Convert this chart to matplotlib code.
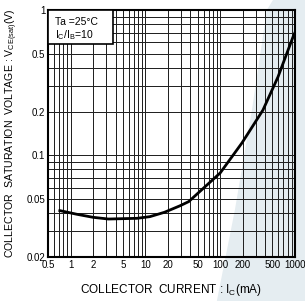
import matplotlib
matplotlib.use("Agg")
import matplotlib.pyplot as plt
from matplotlib.patches import Polygon, Rectangle

plt.rcParams['font.family'] = ['Liberation Sans', 'DejaVu Sans']
plt.rcParams['mathtext.fontset'] = 'custom'
plt.rcParams['mathtext.rm'] = 'Liberation Sans'
plt.rcParams['mathtext.default'] = 'regular'

# curve
ic = [0.72, 1.2, 2, 3.2, 7.7, 11.5, 18, 29, 38, 100, 196, 373, 592, 781, 940, 1000]
vce = [0.0417, 0.0394, 0.0375, 0.0365, 0.0369, 0.0379, 0.0406, 0.0450, 0.0481,
       0.0757, 0.122, 0.205, 0.346, 0.506, 0.652, 0.70]

xticks = [0.5, 1, 2, 5, 10, 20, 50, 100, 200, 500, 1000]
xticklabels = ["0.5", "1", "2", "5", "10", "20", "50", "100", "200", "500", "1000"]
yticks = [0.02, 0.05, 0.1, 0.2, 0.5, 1]
yticklabels = ["0.02", "0.05", "0.1", "0.2", "0.5", "1"]

fig = plt.figure(figsize=(3.05, 3.01), dpi=100)

# light background swoosh on the right (behind everything)
bgax = fig.add_axes([0, 0, 1, 1], zorder=-1)
bgax.axis('off')
bgax.set_xlim(0, 1)
bgax.set_ylim(0, 1)
bgax.add_patch(Polygon([(0.895, 1.0), (1.0, 1.0), (1.0, 0.0), (0.711, 0.0),
                        (0.770, 0.302), (0.826, 0.635), (0.875, 0.967)],
                       closed=True, facecolor='#e5edf1', edgecolor='none'))

ax = fig.add_axes([48/305, 1-257/301, 247/305, 247/301])
ax.patch.set_alpha(0)
ax.set_xscale('log')
ax.set_yscale('log')
ax.set_xlim(0.5, 1000)
ax.set_ylim(0.02, 1)

# grid lines at every 1..9 of each decade
xs = [m * 10.0**d for d in range(-1, 3) for m in range(1, 10)]
xs = [v for v in xs if 0.5 < v < 1000]
ys = [m * 10.0**d for d in range(-2, 0) for m in range(1, 10)]
ys = [v for v in ys if 0.02 < v < 1]
for v in xs:
    ax.axvline(v, color='#222222', lw=0.5, antialiased=False, zorder=1)
for v in ys:
    ax.axhline(v, color='#222222', lw=0.5, antialiased=False, zorder=1)

ax.plot(ic, vce, color='black', lw=2.0, zorder=3)

ax.set_xticks(xticks)
ax.set_xticklabels(xticklabels)
ax.set_yticks(yticks)
ax.set_yticklabels(yticklabels)
ax.minorticks_off()
ax.tick_params(length=0, labelsize=7, pad=2)
for s in ax.spines.values():
    s.set_linewidth(1.5)

ax.set_xlabel("COLLECTOR  CURRENT : I$_{C}$(mA)", fontsize=8.5, labelpad=9)
ax.set_ylabel("COLLECTOR  SATURATION  VOLTAGE : V$_{CE(sat)}$(V)", fontsize=7.6, labelpad=5)

# condition box in the top-left corner
ax.add_patch(Rectangle((0, 1 - 0.138), 0.263, 0.138, transform=ax.transAxes,
                       facecolor='white', edgecolor='black', lw=1.2, zorder=5))
ax.text(0.03, 0.951, "Ta =25°C", transform=ax.transAxes, fontsize=7.5,
        va='center', ha='left', zorder=6)
ax.text(0.03, 0.899, "I$_{C}$/I$_{B}$=10", transform=ax.transAxes, fontsize=7.5,
        va='center', ha='left', zorder=6)

fig.savefig("out.png", dpi=100)
